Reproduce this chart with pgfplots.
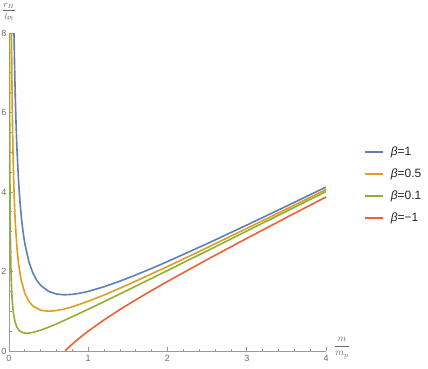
\documentclass[border=0pt]{standalone}
\usepackage{fontspec}
\setmainfont{Liberation Sans}
\usepackage{pgfplots}
\pgfplotsset{compat=1.18}
\definecolor{mblue}{HTML}{5E81B5}
\definecolor{morange}{HTML}{E19C24}
\definecolor{mgreen}{HTML}{8FB032}
\definecolor{mred}{HTML}{EB6235}
\definecolor{axgray}{HTML}{9A9A9A}
\definecolor{labgray}{HTML}{6A6A6A}
\begin{document}
\begin{tikzpicture}[x=1pt,y=1pt]
\useasboundingbox (0,0) rectangle (428,369);
\begin{axis}[at={(9pt,18pt)},anchor=origin,
  width=317pt,height=318pt,scale only axis,
  xmin=0,xmax=4,ymin=0,ymax=8,
  clip mode=individual,
  axis x line=bottom,axis y line=left,
  axis line style={-,draw=axgray,line width=1pt},
  xtick={0,1,2,3,4},ytick={0,2,4,6,8},
  minor x tick num=4,minor y tick num=3,
  tick align=inside,major tick length=4pt,minor tick length=2.5pt,
  tick style={draw=axgray,line width=0.8pt},
  /pgf/number format/assume math mode=true,
  tick label style={font=\fontsize{9}{10}\selectfont,text=labgray},
  xticklabel style={yshift=-1pt},
  yticklabel style={xshift=1pt},
  legend cell align=left,
  legend style={at={(rel axis cs:1.12,0.645)},anchor=north west,
    draw=none,fill=none,inner sep=0pt,row sep=10pt,column sep=0pt,
    font=\fontsize{12}{14}\selectfont,text=black!85,
    nodes={inner sep=0pt,text height=9pt,text depth=3pt}},
  legend image code/.code={\draw[#1,line width=1.6pt] (0pt,0pt) -- (18pt,0pt);},
  every axis plot/.append style={line width=1.6pt,mark=none,line join=round},
]
% beta = 1
\addplot[mblue] coordinates {
 (0.063,8.000) (0.07,7.213) (0.08,6.330) (0.09,5.646) (0.1,5.100)
 (0.12,4.287) (0.14,3.711) (0.16,3.285) (0.18,2.958) (0.2,2.700)
 (0.25,2.250) (0.3,1.967) (0.35,1.779) (0.4,1.650) (0.5,1.500)
 (0.6,1.433) (0.7,1.414) (0.8,1.425) (0.9,1.456) (1.0,1.500)
 (1.2,1.617) (1.4,1.757) (1.6,1.913) (1.8,2.078) (2.0,2.250)
 (2.5,2.700) (3.0,3.167) (3.5,3.643) (4.0,4.125)};
\addlegendentry{\hspace{7pt}\textit{β}=1}
% beta = 0.5
\addplot[morange] coordinates {
 (0.0314,7.993) (0.035,7.178) (0.04,6.290) (0.045,5.601) (0.05,5.050)
 (0.06,4.227) (0.07,3.641) (0.08,3.205) (0.1,2.600) (0.12,2.203)
 (0.15,1.817) (0.2,1.450) (0.25,1.250) (0.3,1.133) (0.4,1.025)
 (0.5,1.000) (0.6,1.017) (0.7,1.057) (0.8,1.113) (1.0,1.250)
 (1.2,1.408) (1.5,1.667) (2.0,2.125) (2.5,2.600) (3.0,3.083)
 (3.5,3.571) (4.0,4.063)};
\addlegendentry{\hspace{7pt}\textit{β}=0.5}
% beta = 0.1
\addplot[mgreen] coordinates {
 (0.00626,7.993) (0.007,7.150) (0.008,6.258) (0.01,5.010) (0.012,4.179)
 (0.015,3.348) (0.02,2.520) (0.025,2.025) (0.03,1.697) (0.04,1.290)
 (0.05,1.050) (0.06,0.893) (0.08,0.705) (0.1,0.600) (0.125,0.525)
 (0.15,0.483) (0.2,0.450) (0.25,0.450) (0.3,0.467) (0.4,0.525)
 (0.5,0.600) (0.6,0.683) (0.8,0.863) (1.0,1.050) (1.25,1.290)
 (1.5,1.533) (2.0,2.025) (2.5,2.520) (3.0,3.017) (3.5,3.514) (4.0,4.013)};
\addlegendentry{\hspace{7pt}\textit{β}=0.1}
% beta = -1
\addplot[mred] coordinates {
 (0.7071,0.000) (0.75,0.083) (0.8,0.175) (0.9,0.344) (1.0,0.500)
 (1.2,0.783) (1.4,1.043) (1.6,1.288) (1.8,1.522) (2.0,1.750)
 (2.5,2.300) (3.0,2.833) (3.5,3.357) (4.0,3.875)};
\addlegendentry{\hspace{7pt}\textit{β}=−1}
\node[anchor=north,text=labgray,font=\fontsize{9}{10}\selectfont,inner sep=0pt]
  at ([xshift=0pt,yshift=30pt]rel axis cs:0,1) {$\displaystyle\frac{r_H}{l_{\mathrm{Pl}}}$};
\node[anchor=west,text=labgray,font=\fontsize{10}{11}\selectfont,inner sep=0pt]
  at ([xshift=8pt,yshift=3pt]rel axis cs:1,0) {$\displaystyle\frac{m}{m_p}$};
\end{axis}
\end{tikzpicture}
\end{document}
